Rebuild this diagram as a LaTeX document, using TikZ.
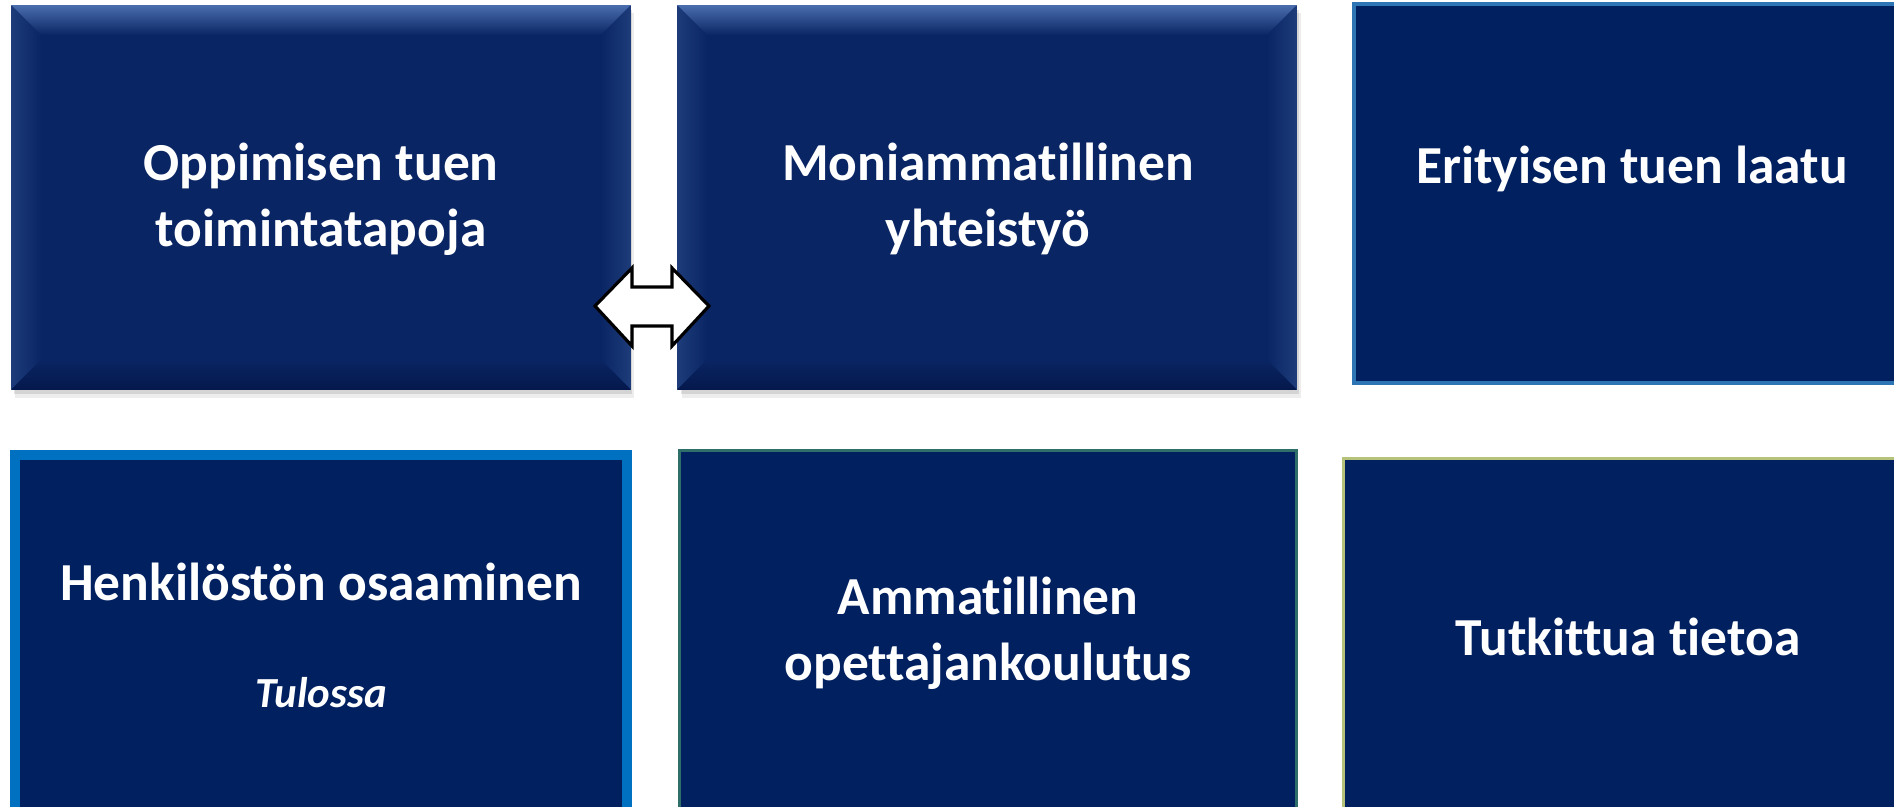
\documentclass[tikz,border=0pt]{standalone}
\usepackage{fontspec}
\setmainfont{Carlito}[RawFeature={-liga;-dlig;-clig}]
\usetikzlibrary{calc}
\definecolor{navyA}{HTML}{0A2563}
\definecolor{navyB}{HTML}{002060}
\definecolor{bevTop}{HTML}{4A6DAE}
\definecolor{bevSide}{HTML}{1E3C7A}
\definecolor{bevBot}{HTML}{04184C}
\definecolor{blueThick}{HTML}{0070C0}
\definecolor{blueThin}{HTML}{2E75B6}
\definecolor{tealThin}{HTML}{2F6F6A}
\definecolor{oliveThin}{HTML}{B4C27A}
\tikzset{
  bevelbox/.style={draw=none,fill=navyA,inner sep=0pt,minimum width=6.18cm,minimum height=3.83cm},
  flatbox/.style={fill=navyB,inner sep=0pt},
  label/.style={text=white,align=center,font=\bfseries\fontsize{15.2}{18.8}\selectfont},
  sublabel/.style={text=white,font=\bfseries\itshape\fontsize{12.2}{14}\selectfont},
  dblarrow/.style={draw=black,fill=white,line width=0.9pt,line join=miter},
}
\begin{document}
\begin{tikzpicture}[x=0.01cm,y=-0.01cm]
\useasboundingbox (0,0) rectangle (1894,807);
\clip (0,0) rectangle (1894,807);
\fill[white] (0,0) rectangle (1894,807);

% shadows of bevelled boxes
\foreach \cx in {321,988}{
  \fill[black,opacity=0.07] (\cx-306,13) rectangle (\cx+313,398);
  \fill[black,opacity=0.10] (\cx-307,10) rectangle (\cx+311,394);
}

% top row, bevelled boxes
\node[bevelbox] (b1) at (321,197.5) {};
\node[bevelbox] (b2) at (987,197.5) {};
\foreach \b in {b1,b2}{
  \shade[top color=bevTop,bottom color=navyA]
    (\b.north west) -- (\b.north east) -- ($(\b.north east)+(-30,30)$) -- ($(\b.north west)+(30,30)$) -- cycle;
  \shade[left color=bevSide,right color=navyA]
    (\b.north west) -- ($(\b.north west)+(30,30)$) -- ($(\b.south west)+(30,-30)$) -- (\b.south west) -- cycle;
  \shade[right color=bevSide,left color=navyA]
    (\b.north east) -- ($(\b.north east)+(-30,30)$) -- ($(\b.south east)+(-30,-30)$) -- (\b.south east) -- cycle;
  \shade[bottom color=bevBot,top color=navyA]
    (\b.south west) -- ($(\b.south west)+(30,-30)$) -- ($(\b.south east)+(-30,-30)$) -- (\b.south east) -- cycle;
}

% other boxes
\node[flatbox,draw=blueThin,line width=1.2pt,minimum width=5.48cm,minimum height=3.79cm] (b3) at (1628,193.5) {};
\node[flatbox,draw=blueThick,line width=2.8pt,minimum width=6.12cm,minimum height=3.66cm] (b4) at (321,638) {};
\node[flatbox,draw=tealThin,line width=0.8pt,minimum width=6.16cm,minimum height=3.69cm] (b5) at (988,635.5) {};
\node[flatbox,draw=oliveThin,line width=0.8pt,minimum width=5.56cm,minimum height=3.61cm] (b6) at (1622,639.5) {};

% labels
\node[label] (t1) at (321,199) {Oppimisen tuen\\toimintatapoja};
\node[label] (t2) at (988,199) {Moniammatillinen\\yhteistyö};
\node[label] (t3) at (1632,169) {Erityisen tuen laatu};
\node[label] (t4) at (321,582) {Henkilöstön osaaminen};
\node[sublabel] (t4b) at (321,693) {Tulossa};
\node[label] (t5) at (988,633) {Ammatillinen\\opettajankoulutus};
\node[label] (t6) at (1628,637) {Tutkittua tietoa};

% double arrow between the two top boxes
\draw[dblarrow] (595,306) -- (632,268) -- (632,287) -- (672,287) -- (672,268)
  -- (709,306) -- (672,346) -- (672,326) -- (632,326) -- (632,346) -- cycle;
\end{tikzpicture}
\end{document}
